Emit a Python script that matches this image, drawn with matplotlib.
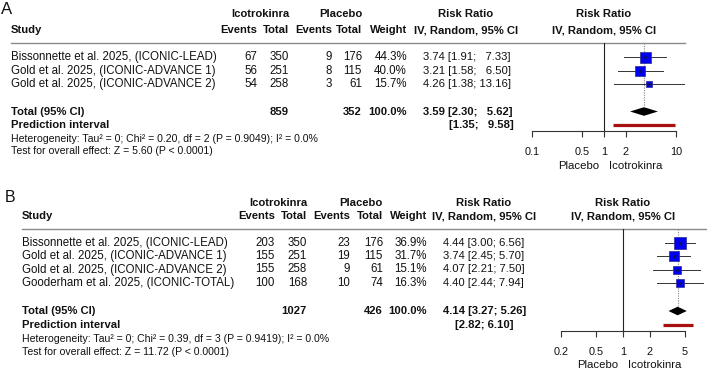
import matplotlib

matplotlib.use("Agg")
import matplotlib.pyplot as plt
import numpy as np

plt.rcParams["font.family"] = ["Liberation Sans", "DejaVu Sans"]

W, H = 707, 374

# ---- data, panel A ----
studies_a = [
    "Bissonnette et al. 2025, (ICONIC-LEAD)",
    "Gold et al. 2025, (ICONIC-ADVANCE 1)",
    "Gold et al. 2025, (ICONIC-ADVANCE 2)",
]
ico_events_a = [67, 56, 54]
ico_total_a = [350, 251, 258]
pla_events_a = [9, 8, 3]
pla_total_a = [176, 115, 61]
weight_a = [44.3, 40.0, 15.7]
rr_a = [3.74, 3.21, 4.26]
lo_a = [1.91, 1.58, 1.38]
hi_a = [7.33, 6.50, 13.16]
pooled_a = [3.59, 2.30, 5.62]
pred_a = [1.35, 9.58]
totals_a = [859, 352]
het_a = "Heterogeneity: Tau\u00b2 = 0; Chi\u00b2 = 0.20, df = 2 (P = 0.9049); I\u00b2 = 0.0%"
test_a = "Test for overall effect: Z = 5.60 (P < 0.0001)"
ticks_a = [0.1, 0.5, 1, 2, 10]
ticklabels_a = ["0.1", "0.5", "1", "2", "10"]

# ---- data, panel B ----
studies_b = [
    "Bissonnette et al. 2025, (ICONIC-LEAD)",
    "Gold et al. 2025, (ICONIC-ADVANCE 1)",
    "Gold et al. 2025, (ICONIC-ADVANCE 2)",
    "Gooderham et al. 2025, (ICONIC-TOTAL)",
]
ico_events_b = [203, 155, 155, 100]
ico_total_b = [350, 251, 258, 168]
pla_events_b = [23, 19, 9, 10]
pla_total_b = [176, 115, 61, 74]
weight_b = [36.9, 31.7, 15.1, 16.3]
rr_b = [4.44, 3.74, 4.07, 4.40]
lo_b = [3.00, 2.45, 2.21, 2.44]
hi_b = [6.56, 5.70, 7.50, 7.94]
pooled_b = [4.14, 3.27, 5.26]
pred_b = [2.82, 6.10]
totals_b = [1027, 426]
het_b = "Heterogeneity: Tau\u00b2 = 0; Chi\u00b2 = 0.39, df = 3 (P = 0.9419); I\u00b2 = 0.0%"
test_b = "Test for overall effect: Z = 11.72 (P < 0.0001)"
ticks_b = [0.2, 0.5, 1, 2, 5]
ticklabels_b = ["0.2", "0.5", "1", "2", "5"]

# ---- font sizes (pt) ----
FS_BOLD = 8.1
FS_ROW = 8.3      # study names, counts, weights
FS_RR = 8.1       # risk ratio column
FS_SMALL = 7.6    # heterogeneity / overall effect
FS_TICK = 7.8
FS_SIDE = 8.2
INK = "#111111"

layout_a = dict(
    letter="A", letter_xy=(7, 9), letter_fs=12,
    hdr1=14, hdr2=30, line_y=43, line_x=(11, 685),
    rows=[57, 70.5, 84], total_y=111.5, pred_y=124.5, het_y=138.5, test_y=151,
    x_study=11, x_ie=257, x_it=289, x_pe=332, x_pt=362, x_w=407,
    x_rr=423, x_pred=449, rr_hdr=466,
    plot_l=522, plot_r=685, axis_y=131, one_px=604, px_dec=72,
    sq_max=11, side_y=166,
)
layout_b = dict(
    letter="B", letter_xy=(10, 197), letter_fs=11.5,
    hdr1=203, hdr2=216, line_y=229, line_x=(22, 707),
    rows=[242.5, 256, 269.5, 283], total_y=311, pred_y=324.5, het_y=338.5, test_y=352,
    x_study=22, x_ie=275, x_it=307, x_pe=350, x_pt=383, x_w=427,
    x_rr=443, x_pred=455, rr_hdr=484,
    plot_l=550, plot_r=707, axis_y=331, one_px=623, px_dec=88.5,
    sq_max=11.7, side_y=365,
)


def fmt_ci(lo, hi, width):
    h = f"{hi:.2f}"
    pad = " " * (1 + 2 * (width - len(h)))
    return f"[{lo:.2f};{pad}{h}]"


def draw_panel(fig, tx, L, studies, ie, it, pe, pt, wt, rr, lo, hi,
               pooled, pred, totals, het, test, ticks, ticklabels):
    t = dict(fontsize=FS_ROW, va="center", color=INK)
    trr = dict(t, fontsize=FS_RR)
    b = dict(fontsize=FS_BOLD, va="center", color=INK, fontweight="bold")
    tx.text(*L["letter_xy"], L["letter"], fontsize=L["letter_fs"],
            ha="center", va="center", color=INK)

    # headers
    tx.text(L["x_it"], L["hdr1"], "Icotrokinra", ha="right", **b)
    tx.text(L["x_pt"], L["hdr1"], "Placebo", ha="right", **b)
    tx.text(L["rr_hdr"], L["hdr1"], "Risk Ratio", ha="center", **b)
    tx.text(L["one_px"], L["hdr1"], "Risk Ratio", ha="center", **b)
    tx.text(L["x_study"], L["hdr2"], "Study", ha="left", **b)
    tx.text(L["x_ie"], L["hdr2"], "Events", ha="right", **b)
    tx.text(L["x_it"], L["hdr2"], "Total", ha="right", **b)
    tx.text(L["x_pe"], L["hdr2"], "Events", ha="right", **b)
    tx.text(L["x_pt"], L["hdr2"], "Total", ha="right", **b)
    tx.text(L["x_w"], L["hdr2"], "Weight", ha="right", **b)
    tx.text(L["rr_hdr"], L["hdr2"], "IV, Random, 95% CI", ha="center", **b)
    tx.text(L["one_px"], L["hdr2"], "IV, Random, 95% CI", ha="center", **b)
    tx.plot(L["line_x"], [L["line_y"]] * 2, color="#8a8a8a", lw=1.0)

    width = max(len(f"{v:.2f}") for v in hi + [pooled[2], pred[1]])
    for i, y in enumerate(L["rows"]):
        tx.text(L["x_study"], y, studies[i], ha="left", **t)
        tx.text(L["x_ie"], y, str(ie[i]), ha="right", **t)
        tx.text(L["x_it"], y, str(it[i]), ha="right", **t)
        tx.text(L["x_pe"], y, str(pe[i]), ha="right", **t)
        tx.text(L["x_pt"], y, str(pt[i]), ha="right", **t)
        tx.text(L["x_w"], y, f"{wt[i]:.1f}%", ha="right", **t)
        tx.text(L["x_rr"], y, f"{rr[i]:.2f} " + fmt_ci(lo[i], hi[i], width),
                ha="left", **trr)

    ty = L["total_y"]
    tx.text(L["x_study"], ty, "Total (95% CI)", ha="left", **b)
    tx.text(L["x_it"], ty, str(totals[0]), ha="right", **b)
    tx.text(L["x_pt"], ty, str(totals[1]), ha="right", **b)
    tx.text(L["x_w"], ty, "100.0%", ha="right", **b)
    tx.text(L["x_rr"], ty, f"{pooled[0]:.2f} " + fmt_ci(pooled[1], pooled[2], width),
            ha="left", **b)
    tx.text(L["x_study"], L["pred_y"], "Prediction interval", ha="left", **b)
    tx.text(L["x_pred"], L["pred_y"], fmt_ci(pred[0], pred[1], width), ha="left", **b)
    tx.text(L["x_study"], L["het_y"], het, ha="left", fontsize=FS_SMALL,
            va="center", color=INK)
    tx.text(L["x_study"], L["test_y"], test, ha="left", fontsize=FS_SMALL,
            va="center", color=INK)

    # forest plot axes
    top, bot = L["line_y"], L["axis_y"]
    ax = fig.add_axes([L["plot_l"] / W, 1 - bot / H,
                       (L["plot_r"] - L["plot_l"]) / W, (bot - top) / H])
    ax.set_xscale("log")
    ax.set_xlim(10 ** ((L["plot_l"] - L["one_px"]) / L["px_dec"]),
                10 ** ((L["plot_r"] - L["one_px"]) / L["px_dec"]))
    ax.set_ylim(bot, top)
    ax.patch.set_alpha(0)
    for s in ["top", "left", "right"]:
        ax.spines[s].set_visible(False)
    ax.spines["bottom"].set_bounds(ticks[0], ticks[-1])
    ax.spines["bottom"].set_linewidth(0.8)
    ax.spines["bottom"].set_color("#333333")
    ax.set_yticks([])
    ax.set_xticks(ticks)
    ax.set_xticklabels(ticklabels, fontsize=FS_TICK)
    ax.minorticks_off()
    ax.tick_params(axis="x", length=4.5, width=0.8, color="#333333",
                   pad=7, labelcolor=INK)

    ax.plot([1, 1], [bot, top], color="#222222", lw=0.8, clip_on=False)
    ax.plot([pooled[0]] * 2, [top, ty - 4.5], color="#888888", lw=0.8,
            ls=(0, (1, 1.2)))
    wmax = max(wt)
    for i, y in enumerate(L["rows"]):
        ax.plot([lo[i], hi[i]], [y, y], color="#333333", lw=0.7)
        side = L["sq_max"] * np.sqrt(wt[i] / wmax) * 0.72
        ax.plot(rr[i], y, marker="s", ms=side, mfc="#0000f0", mec="#2b2b8c",
                mew=0.5, ls="none")
        ax.plot(rr[i], y, marker="s", ms=0.9, color="#111144", ls="none")
    dh = 4.3
    ax.fill([pooled[1], pooled[0], pooled[2], pooled[0]],
            [ty, ty - dh, ty, ty + dh], color="black", lw=0)
    ax.plot(pred, [L["pred_y"]] * 2, color="#a81010", lw=2.3,
            solid_capstyle="butt")

    side = dict(fontsize=FS_SIDE, va="center", color=INK)
    tx.text(L["one_px"] - 5, L["side_y"], "Placebo", ha="right", **side)
    tx.text(L["one_px"] + 5, L["side_y"], "Icotrokinra", ha="left", **side)


def main():
    fig = plt.figure(figsize=(W / 100, H / 100), dpi=100)
    tx = fig.add_axes([0, 0, 1, 1])
    tx.set_xlim(0, W)
    tx.set_ylim(H, 0)
    tx.axis("off")
    draw_panel(fig, tx, layout_a, studies_a, ico_events_a, ico_total_a,
               pla_events_a, pla_total_a, weight_a, rr_a, lo_a, hi_a,
               pooled_a, pred_a, totals_a, het_a, test_a, ticks_a, ticklabels_a)
    draw_panel(fig, tx, layout_b, studies_b, ico_events_b, ico_total_b,
               pla_events_b, pla_total_b, weight_b, rr_b, lo_b, hi_b,
               pooled_b, pred_b, totals_b, het_b, test_b, ticks_b, ticklabels_b)
    fig.savefig("out.png", dpi=100, facecolor="white")
    plt.close(fig)


if __name__ == "__main__":
    main()
